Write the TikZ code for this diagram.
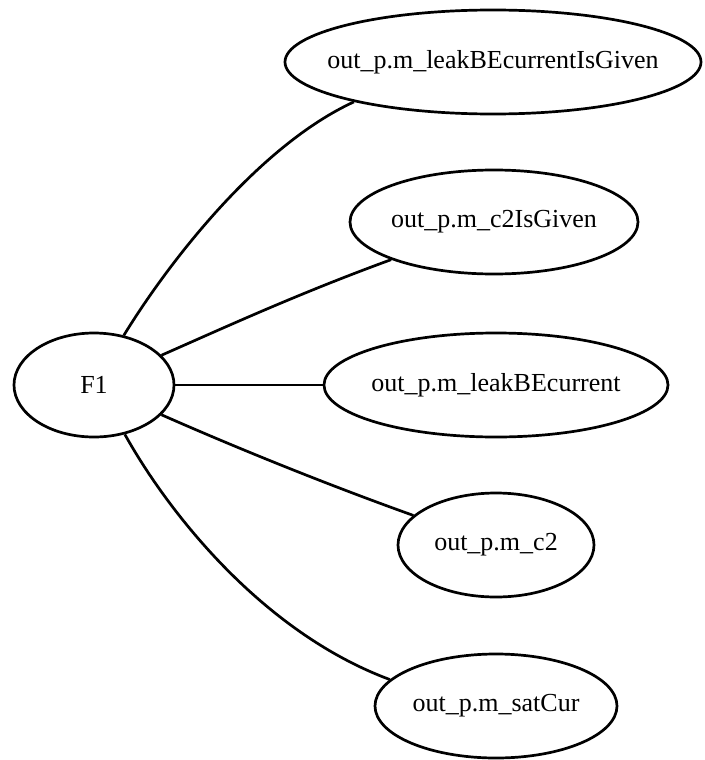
\documentclass[tikz,border=0pt]{standalone}
\usepackage{fontspec}
\setmainfont{Liberation Serif}
\usetikzlibrary{shapes.geometric}
% labels take no width, so each ellipse keeps the size given to it
\newcommand{\lbl}[1]{\makebox[0pt]{#1}}
\begin{document}
\begin{tikzpicture}[x=1pt, y=-1pt,
  state/.style={draw, ellipse, line width=2.7pt, inner sep=0pt,
    minimum height=104pt, font=\fontsize{26}{30}\selectfont},
  link/.style={line width=2.7pt}]
\useasboundingbox (0,0) rectangle (704,760);
\node[state, minimum width=160pt] (F1) at (94,385) {\lbl{F1}};
\node[state, minimum width=416pt] (n1) at (493,62) {\lbl{out\_p.m\_leakBEcurrentIsGiven}};
\node[state, minimum width=288pt] (n2) at (494,222) {\lbl{out\_p.m\_c2IsGiven}};
\node[state, minimum width=344pt] (n3) at (496,385) {\lbl{out\_p.m\_leakBEcurrent}};
\node[state, minimum width=196pt] (n4) at (496,545) {\lbl{out\_p.m\_c2}};
\node[state, minimum width=242pt] (n5) at (496,706) {\lbl{out\_p.m\_satCur}};
\draw[link] (F1.59) .. controls (170,260) and (260,145) .. (n1.196);
\draw[link] (F1) .. controls (230,325) and (300,293) .. (n2);
\draw[link] (F1) -- (n3);
\draw[link] (F1) .. controls (230,445) and (320,482) .. (n4);
\draw[link] (F1.-58) .. controls (168,512) and (262,632) .. (n5.166);
\end{tikzpicture}
\end{document}
